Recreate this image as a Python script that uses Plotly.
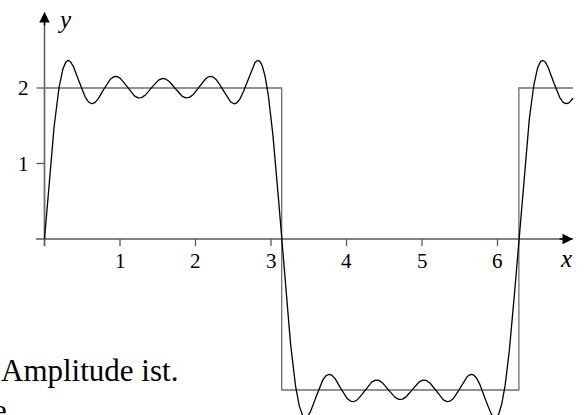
import numpy as np
import plotly.graph_objects as go

# ---- data ----
# square wave (amplitude 2, period 2*pi)
square_x = [0.0, 0.0, 3.1416, 3.1416, 6.2832, 6.2832, 7.0]
square_y = [0.0, 2.0, 2.0, -2.0, -2.0, 2.0, 2.0]
# Fourier partial sum: harmonics and their amplitudes (8/(pi*n))
harmonics = [1, 3, 5, 7, 9]
amplitudes = [2.5465, 0.8488, 0.5093, 0.3638, 0.2829]
curve_x_range = [0.0, 7.0]
x_ticks = [1, 2, 3, 4, 5, 6]
y_ticks = [1, 2]
x_tick_labels = ["1", "2", "3", "4", "5", "6"]
y_tick_labels = ["1", "2"]

cx = np.linspace(curve_x_range[0], curve_x_range[1], 1400)
cy = np.zeros_like(cx)
for n, a in zip(harmonics, amplitudes):
    cy = cy + a * np.sin(n * cx)

W, H = 584, 415
# pixel mapping: x_px = 44.5 + 75.5*x ; y_px = 239 - 75.5*y
sx = 75.5
x0px, y0px = 44.5, 239.0
xr = [(0 - x0px) / sx, (W - x0px) / sx]
yr = [(y0px - H) / sx, y0px / sx]

def px(u):
    return u / sx

AX = "#5a5a5a"
FONT = "Liberation Serif"

fig = go.Figure()
fig.add_trace(go.Scatter(x=square_x, y=square_y, mode="lines",
                         line=dict(color="#6e6e6e", width=1.3), hoverinfo="skip"))
fig.add_trace(go.Scatter(x=cx, y=cy, mode="lines",
                         line=dict(color="black", width=1.3), hoverinfo="skip"))

shapes = []
# x axis
shapes.append(dict(type="line", x0=px(-8.5), x1=7.0, y0=0, y1=0,
                   line=dict(color=AX, width=1.5), layer="below"))
# y axis
shapes.append(dict(type="line", x0=0, x1=0, y0=-px(7), y1=3.0,
                   line=dict(color=AX, width=1.5), layer="below"))
# ticks
for t in x_ticks + [0]:
    shapes.append(dict(type="line", x0=t, x1=t, y0=0, y1=-px(7),
                       line=dict(color=AX, width=1.3), layer="below"))
for t in y_ticks:
    shapes.append(dict(type="line", x0=-px(8), x1=0, y0=t, y1=t,
                       line=dict(color=AX, width=1.3), layer="below"))

ann = []
# arrow heads
ann.append(dict(x=px(573 - x0px), y=0, ax=px(558 - x0px), ay=0,
                xref="x", yref="y", axref="x", ayref="y", text="",
                showarrow=True, arrowhead=2, arrowsize=1.4, arrowwidth=1.5,
                arrowcolor="black"))
ann.append(dict(x=0, y=(y0px - 12) / sx, ax=0, ay=(y0px - 27) / sx,
                xref="x", yref="y", axref="x", ayref="y", text="",
                showarrow=True, arrowhead=2, arrowsize=1.4, arrowwidth=1.5,
                arrowcolor="black"))
for t, lab in zip(x_ticks, x_tick_labels):
    ann.append(dict(x=t, y=-px(22), text=lab, showarrow=False,
                    font=dict(family=FONT, size=21, color="black"),
                    xanchor="center", yanchor="middle"))
for t, lab in zip(y_ticks, y_tick_labels):
    ann.append(dict(x=-px(21), y=t, text=lab, showarrow=False,
                    font=dict(family=FONT, size=21, color="black"),
                    xanchor="center", yanchor="middle"))
ann.append(dict(x=px(566 - x0px), y=-px(19), text="<i>x</i>", showarrow=False,
                font=dict(family=FONT, size=25, color="black"),
                xanchor="center", yanchor="middle"))
ann.append(dict(x=px(64 - x0px), y=(y0px - 19) / sx, text="<i>y</i>", showarrow=False,
                font=dict(family=FONT, size=25, color="black"),
                xanchor="center", yanchor="middle"))
# surrounding document text
ann.append(dict(x=0, y=1 - 370 / H, xref="paper", yref="paper",
                text="Amplitude ist.", showarrow=False,
                font=dict(family=FONT, size=31, color="black"),
                xanchor="left", yanchor="middle", borderpad=0))
ann.append(dict(x=16 / W, y=1 - 410 / H, xref="paper", yref="paper",
                text="e.", showarrow=False,
                font=dict(family=FONT, size=31, color="black"),
                xanchor="right", yanchor="middle", borderpad=0))

fig.update_layout(
    width=W, height=H, margin=dict(l=0, r=0, t=0, b=0),
    paper_bgcolor="white", plot_bgcolor="white", showlegend=False,
    xaxis=dict(range=xr, visible=False, fixedrange=True),
    yaxis=dict(range=yr, visible=False, fixedrange=True),
    shapes=shapes, annotations=ann,
)
fig.write_html("out.html", config={"displayModeBar": False},
               post_script="document.body.style.margin='0';")
